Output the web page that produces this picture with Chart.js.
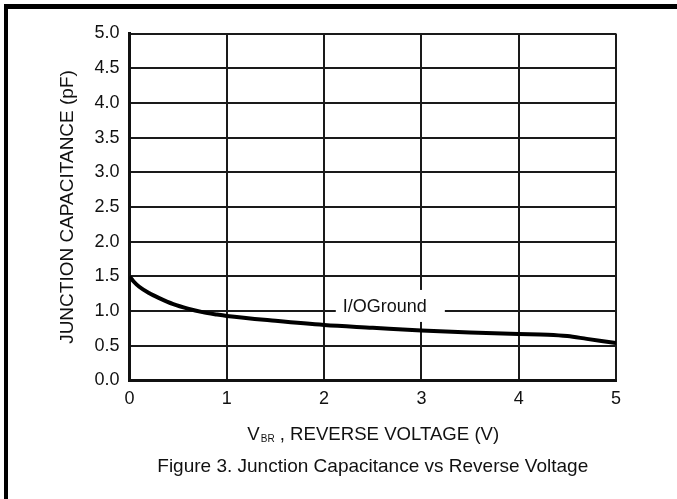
<!DOCTYPE html>
<html>
<head>
<meta charset="utf-8">
<title>Junction Capacitance vs Reverse Voltage</title>
<script src="https://cdn.jsdelivr.net/npm/chart.js@4/dist/chart.umd.min.js"></script>
<style>
    html, body { margin: 0; padding: 0; background: #fff; }
    #wrap { position: relative; width: 677px; height: 499px; overflow: hidden; }
    #frame {
        position: absolute; left: 4px; top: 4px; right: 0; bottom: 0;
        border-top: 5px solid #000; border-left: 4px solid #000;
    }
    #capChart { position: absolute; left: 0; top: 0; }
</style>
</head>
<body>
<div id="wrap">
    <div id="frame"></div>
    <canvas id="capChart" width="677" height="499"></canvas>
</div>
<script>
var voltages = [0, 0.04, 0.1, 0.2, 0.3, 0.45, 0.6, 0.75, 0.9, 1.0, 1.5, 2.0, 2.5, 3.0, 3.5, 4.0, 4.3, 4.5, 4.7, 4.85, 5.0];
var capacitance = [1.50, 1.43, 1.35, 1.26, 1.19, 1.10, 1.035, 0.985, 0.95, 0.93, 0.86, 0.80, 0.76, 0.72, 0.69, 0.67, 0.66, 0.64, 0.60, 0.57, 0.54];
var xTickLabels = ['0', '1', '2', '3', '4', '5'];
var yTickLabels = ['0.0', '0.5', '1.0', '1.5', '2.0', '2.5', '3.0', '3.5', '4.0', '4.5', '5.0'];
var seriesName = 'I/OGround';

document.addEventListener('DOMContentLoaded', function() {
    var font = 'Liberation Sans, Arial, Helvetica, sans-serif';
    var ink = '#111';

    // curve label sitting on a white patch over the grid
    var curveLabel = {
        id: 'curveLabel',
        beforeDatasetsDraw: function(chart, args, opts) {
            var ctx = chart.ctx;
            var cx = chart.scales.x.getPixelForValue(opts.at[0]);
            var cy = chart.scales.y.getPixelForValue(opts.at[1]);
            ctx.save();
            ctx.font = '18px ' + font;
            var w = ctx.measureText(opts.text).width;
            ctx.fillStyle = '#fff';
            ctx.fillRect(cx - w / 2 - 7, cy - 17, w + 25, 32);
            ctx.fillStyle = ink;
            ctx.textAlign = 'center';
            ctx.textBaseline = 'middle';
            ctx.fillText(opts.text, cx, cy);
            ctx.restore();
        }
    };

    // x axis title with the BR subscript
    var xTitle = {
        id: 'xTitle',
        afterDraw: function(chart) {
            var ctx = chart.ctx;
            var area = chart.chartArea;
            var big = '18.6px ' + font;
            var small = '10px ' + font;
            var rest = ' , REVERSE VOLTAGE (V)';
            ctx.save();
            ctx.fillStyle = ink;
            ctx.textBaseline = 'alphabetic';
            ctx.textAlign = 'left';
            ctx.font = big;
            var wV = ctx.measureText('V').width;
            var wRest = ctx.measureText(rest).width;
            ctx.font = small;
            var wBR = ctx.measureText('BR').width;
            var x = (area.left + area.right) / 2 - (wV + wBR + wRest) / 2;
            var y = area.bottom + 59.5;
            ctx.font = big;
            ctx.fillText('V', x, y);
            ctx.font = small;
            ctx.fillText('BR', x + wV + 1, y + 2);
            ctx.font = big;
            ctx.fillText(rest, x + wV + wBR + 1, y);
            ctx.restore();
        }
    };

    var points = voltages.map(function(v, i) {
        return { x: v, y: capacitance[i] };
    });

    var ctx = document.getElementById('capChart').getContext('2d');

    new Chart(ctx, {
        type: 'line',
        data: {
            datasets: [{
                label: seriesName,
                data: points,
                borderColor: '#000',
                borderWidth: 4,
                pointRadius: 0,
                fill: false,
                cubicInterpolationMode: 'monotone'
            }]
        },
        options: {
            responsive: false,
            animation: false,
            devicePixelRatio: 1,
            layout: {
                padding: { top: 33.5, right: 61, left: 0, bottom: 0 }
            },
            scales: {
                x: {
                    type: 'linear',
                    min: 0,
                    max: 5,
                    afterFit: function(scale) { scale.height = 75.1; },
                    ticks: {
                        stepSize: 1,
                        padding: 8,
                        color: ink,
                        font: { family: font, size: 18 },
                        maxRotation: 0,
                        callback: function(value, index) { return xTickLabels[index]; }
                    },
                    grid: { color: '#1a1a1a', lineWidth: 2, drawTicks: false },
                    border: { color: '#111', width: 3 },
                    title: { display: false }
                },
                y: {
                    min: 0,
                    max: 5,
                    afterFit: function(scale) { scale.width = 129.5; },
                    ticks: {
                        stepSize: 0.5,
                        padding: 10,
                        color: ink,
                        font: { family: font, size: 18 },
                        callback: function(value, index) { return yTickLabels[index]; }
                    },
                    grid: { color: '#1a1a1a', lineWidth: 2, drawTicks: false },
                    border: { color: '#111', width: 3 },
                    title: {
                        display: true,
                        text: 'JUNCTION CAPACITANCE (pF)',
                        color: ink,
                        font: { family: font, size: 19 },
                        padding: { top: 56.6, bottom: 0 }
                    }
                }
            },
            plugins: {
                legend: { display: false },
                tooltip: { enabled: false },
                title: {
                    display: true,
                    position: 'bottom',
                    fullSize: false,
                    text: 'Figure 3. Junction Capacitance vs Reverse Voltage',
                    color: ink,
                    font: { family: font, size: 19, weight: 'normal' },
                    padding: { top: 0, bottom: 20.6 }
                },
                curveLabel: { text: seriesName, at: [2.624, 1.06] }
            }
        },
        plugins: [curveLabel, xTitle]
    });
});
</script>
</body>
</html>
